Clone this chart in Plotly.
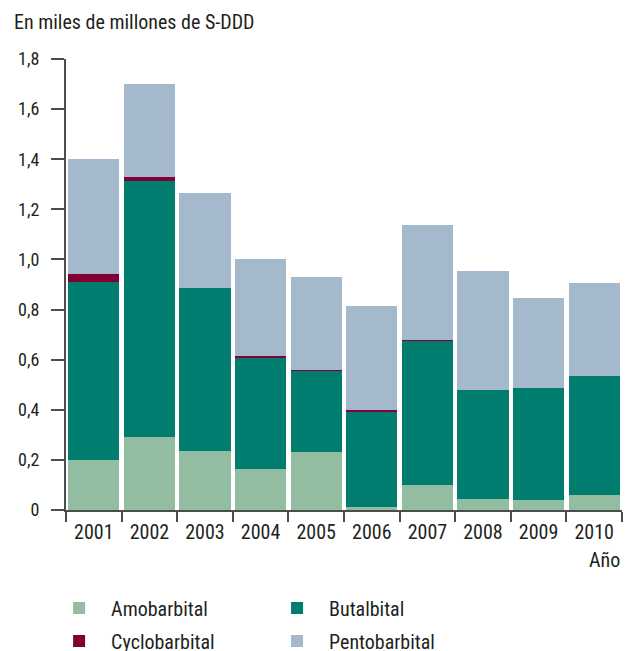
import plotly.graph_objects as go

# Datos (miles de millones de S-DDD)
years = ["2001", "2002", "2003", "2004", "2005", "2006", "2007", "2008", "2009", "2010"]
amobarbital = [0.20, 0.29, 0.235, 0.165, 0.23, 0.01, 0.10, 0.045, 0.04, 0.06]
butalbital = [0.71, 1.025, 0.65, 0.44, 0.325, 0.385, 0.575, 0.435, 0.445, 0.475]
cyclobarbital = [0.03, 0.016, 0.0, 0.008, 0.005, 0.005, 0.004, 0.0, 0.0, 0.0]
pentobarbital = [0.46, 0.37, 0.38, 0.39, 0.37, 0.415, 0.46, 0.475, 0.36, 0.37]

y_tickvals = [0, 0.2, 0.4, 0.6, 0.8, 1.0, 1.2, 1.4, 1.6, 1.8]
y_ticktext = ["0", "0,2", "0,4", "0,6", "0,8", "1,0", "1,2", "1,4", "1,6", "1,8"]

FONT = "Liberation Sans Narrow, Roboto Condensed, Arial Narrow, sans-serif"
TXT = "#231F20"
AXIS = "#4D4D4D"

series = [
    ("Amobarbital", amobarbital, "#93BDA0", "legend"),
    ("Butalbital", butalbital, "#007D6E", "legend2"),
    ("Cyclobarbital", cyclobarbital, "#820036", "legend"),
    ("Pentobarbital", pentobarbital, "#A5B9CD", "legend2"),
]

fig = go.Figure()
for name, vals, color, leg in series:
    fig.add_trace(go.Bar(
        x=years, y=vals, name=name,
        marker=dict(color=color, line=dict(width=0)),
        legend=leg, legendgroup=name,
    ))

# dos columnas de leyenda (Amobarbital/Cyclobarbital y Butalbital/Pentobarbital)
legend_style = dict(
    orientation="v", yanchor="top", xanchor="left",
    traceorder="grouped", tracegroupgap=4, itemwidth=54,
    font=dict(family=FONT, size=20, color=TXT),
    bgcolor="rgba(0,0,0,0)", borderwidth=0,
)

fig.update_layout(
    width=625, height=651,
    barmode="stack", bargap=0.08,
    plot_bgcolor="white", paper_bgcolor="white",
    margin=dict(l=66, r=3, t=59, b=141, autoexpand=False),
    font=dict(family=FONT, size=20, color=TXT),
    title=dict(text="En miles de millones de S-DDD", xref="container", x=14 / 625,
               xanchor="left", y=1 - 22 / 651, yanchor="middle",
               font=dict(family=FONT, size=20, color=TXT)),
    legend=dict(x=-0.034, y=-0.174, **legend_style),
    legend2=dict(x=0.358, y=-0.174, **legend_style),
    xaxis=dict(
        type="category", showgrid=False,
        showline=True, linecolor=AXIS, linewidth=2,
        ticks="outside", tickson="boundaries", ticklen=10, tickwidth=2, tickcolor=AXIS,
        ticklabelstandoff=3,
        tickfont=dict(family=FONT, size=20, color=TXT),
    ),
    yaxis=dict(
        range=[0, 1.8], showgrid=False, zeroline=False,
        showline=True, linecolor=AXIS, linewidth=2,
        ticks="outside", ticklen=13, tickwidth=2, tickcolor=AXIS,
        tickvals=y_tickvals, ticktext=y_ticktext, ticklabelstandoff=8,
        tickfont=dict(family=FONT, size=18, color=TXT),
    ),
    annotations=[dict(
        text="Año", xref="paper", yref="paper", x=1, y=(510 - 560) / 451,
        xanchor="right", yanchor="middle", showarrow=False,
        font=dict(family=FONT, size=20, color=TXT),
    )],
)

# quitar el margen por defecto del <body> para que la figura ocupe toda la ventana
fig.write_html(
    "out.html",
    config={"displayModeBar": False},
    post_script="document.body.style.margin='0';document.body.style.overflow='hidden';",
)
